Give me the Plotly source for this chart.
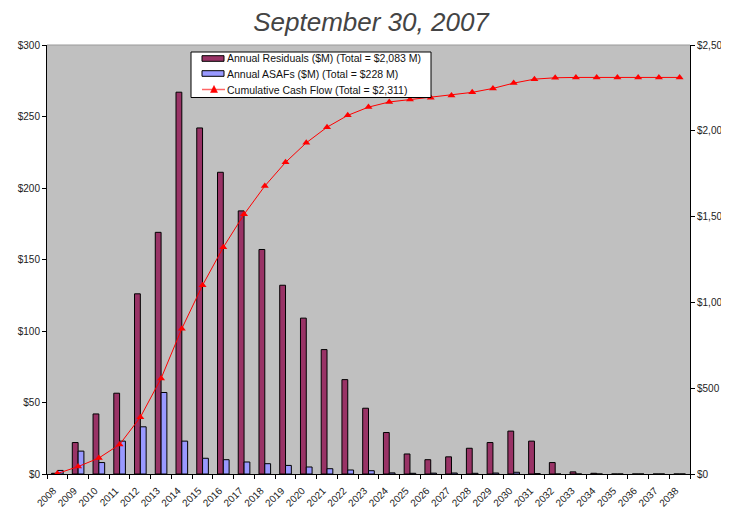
import plotly.graph_objects as go

years = [str(y) for y in range(2008, 2039)]

residuals = [0.5, 22, 42, 56.5, 126, 169, 267, 242, 211, 184, 157, 132, 109, 87, 66, 46,
             29, 14, 10, 12, 18, 22, 30, 23, 8, 1.5, 0.5, 0, 0, 0, 0]

asafs = [2.5, 16, 8, 23, 33, 57, 23, 11, 10, 8.4, 7.2, 6, 4.9, 3.7, 2.8, 2.3,
         0.8, 0.5, 0.6, 0.7, 0.5, 0.7, 1.2, 0.3, 0, 0, 0, 0, 0, 0, 0]

cumulative = [3, 43, 93, 172, 331, 557, 847, 1100, 1321, 1513, 1678, 1816, 1930, 2021,
              2090, 2138, 2168, 2182, 2193, 2206, 2224, 2247, 2278, 2301, 2309, 2311,
              2311, 2311, 2311, 2311, 2311]

legend_labels = ["Annual Residuals ($M) (Total = $2,083 M)",
                 "Annual ASAFs ($M) (Total = $228 M)",
                 "Cumulative Cash Flow (Total = $2,311)"]

FONT = "Liberation Sans, Arial, sans-serif"
RES_COLOR = "#993366"
ASAF_COLOR = "#9999FF"
LINE_COLOR = "#FF0000"

# page is offset by the 8px body margin; figure fits inside the window
W, H = 721, 502
ML, MR, MT, MB = 39, 39, 37, 36
PX0, PX1 = 8 + ML, 8 + W - MR      # plot area left/right in page px
PY0, PY1 = 8 + MT, 8 + H - MB      # plot area top/bottom in page px


def px(x):
    return (x - PX0) / (PX1 - PX0)


def py(y):
    return (PY1 - y) / (PY1 - PY0)


fig = go.Figure()
fig.add_trace(go.Bar(
    x=years, y=residuals, name=legend_labels[0],
    marker=dict(color=RES_COLOR, line=dict(color="#000000", width=1)),
))
fig.add_trace(go.Bar(
    x=years, y=asafs, name=legend_labels[1],
    marker=dict(color=ASAF_COLOR, line=dict(color="#000000", width=1)),
))
fig.add_trace(go.Scatter(
    x=years, y=cumulative, name=legend_labels[2],
    yaxis="y2", mode="lines+markers",
    line=dict(color=LINE_COLOR, width=1),
    marker=dict(symbol="triangle-up", size=7, color=LINE_COLOR),
))

# hand-drawn legend box (compact, Excel style)
shapes = [
    dict(type="line", xref="paper", yref="paper", x0=0, x1=1, y0=1, y1=1,
         line=dict(color="#999999", width=1)),
    dict(type="rect", xref="paper", yref="paper",
         x0=px(191), x1=px(431), y0=py(52), y1=py(97.5),
         fillcolor="white", line=dict(color="black", width=1)),
]
row_y = [58.5, 73.5, 89.5]
for color, yc in [(RES_COLOR, row_y[0]), (ASAF_COLOR, row_y[1])]:
    shapes.append(dict(type="rect", xref="paper", yref="paper",
                       x0=px(202), x1=px(224), y0=py(yc - 2.8), y1=py(yc + 2.8),
                       fillcolor=color, line=dict(color="black", width=1)))
shapes.append(dict(type="line", xref="paper", yref="paper",
                   x0=px(202), x1=px(225), y0=py(row_y[2]), y1=py(row_y[2]),
                   line=dict(color="#FF6666", width=1.5)))
shapes.append(dict(type="path", xref="paper", yref="paper",
                   path=f"M {px(210.5)} {py(row_y[2] + 3)} L {px(217.5)} {py(row_y[2] + 3)} "
                        f"L {px(214)} {py(row_y[2] - 4)} Z",
                   fillcolor=LINE_COLOR, line=dict(color=LINE_COLOR, width=0.5)))

annotations = [
    dict(text=lbl, xref="paper", yref="paper", x=px(225), y=py(yc),
         xanchor="left", yanchor="middle", showarrow=False,
         font=dict(family=FONT, size=10.5, color="#111111"))
    for lbl, yc in zip(legend_labels, row_y)
]

fig.update_layout(
    width=W, height=H,
    margin=dict(l=ML, r=MR, t=MT, b=MB, autoexpand=False),
    paper_bgcolor="white",
    plot_bgcolor="#C0C0C0",
    font=dict(family=FONT, size=10, color="#222222"),
    title=dict(text="<i>September 30, 2007</i>", x=px(371), xanchor="center",
               xref="paper", yref="container",
               y=1 - (22 - 8) / H, yanchor="middle", automargin=False,
               font=dict(family=FONT, size=26, color="#444444")),
    barmode="group",
    bargap=0.44,
    bargroupgap=0,
    showlegend=False,
    xaxis=dict(
        type="category",
        range=[-0.5, 30.5], autorange=False,
        tickangle=-45,
        tickson="boundaries",
        ticks="outside", ticklen=4, tickcolor="black",
        ticklabelstandoff=6, ticklabelshift=-4,
        showline=True, linecolor="black", linewidth=1,
        showgrid=False, automargin=False,
        tickfont=dict(size=10),
    ),
    yaxis=dict(
        range=[0, 300], dtick=50, tickprefix="$",
        ticks="outside", ticklen=4, tickcolor="black",
        showline=True, linecolor="black", linewidth=1,
        showgrid=False, zeroline=False, automargin=False,
        tickfont=dict(size=10),
    ),
    yaxis2=dict(
        range=[0, 2500], dtick=500, tickprefix="$", tickformat=",d",
        overlaying="y", side="right",
        ticks="outside", ticklen=4, tickcolor="black",
        showline=True, linecolor="black", linewidth=1,
        showgrid=False, zeroline=False, automargin=False,
        tickfont=dict(size=10),
    ),
    shapes=shapes,
    annotations=annotations,
)

fig.write_html("out.html")
